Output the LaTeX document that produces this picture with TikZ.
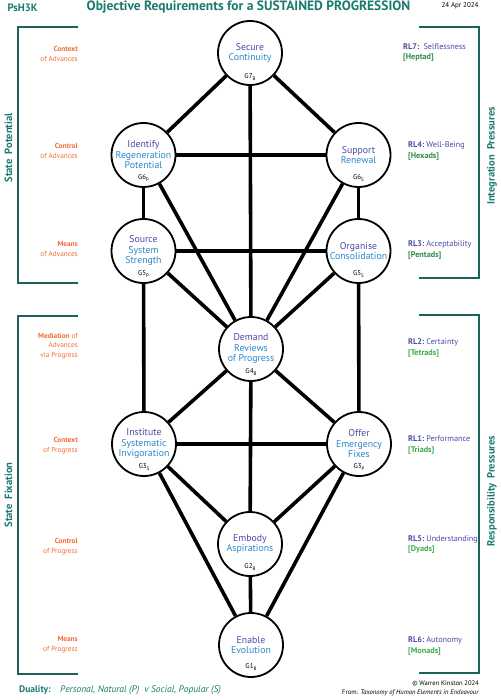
\documentclass[tikz,border=0pt]{standalone}
\usepackage{fontspec}
\setmainfont{PT Sans}
\definecolor{teal1}{HTML}{1B7A6E}
\definecolor{frameclr}{HTML}{1D635C}
\definecolor{orng}{HTML}{F26B36}
\definecolor{indg}{HTML}{4B49A8}
\definecolor{skyb}{HTML}{2C88CC}
\definecolor{grn}{HTML}{2F8C45}
\definecolor{grnl}{HTML}{3DAA4C}
\newcommand\gverb[1]{\textcolor{indg}{#1}}
\newcommand\gsub[1]{\raisebox{-1.2pt}{\fontsize{5}{5}\selectfont #1}}

\begin{document}
\begin{tikzpicture}[x=1pt,y=-1pt,
   gnode/.style={circle,draw,line width=1.8pt,fill=white,minimum size=64pt,
     inner sep=0pt,align=center,text=skyb,font=\fontsize{9.8}{10.5}\selectfont},
   gtag/.style={inner sep=0pt,font=\fontsize{7}{7}\selectfont},
   link/.style={line width=3.6pt},
   frame/.style={draw=frameclr,line width=1.8pt},
   side/.style={anchor=east,align=right,inner sep=0pt,text=orng,
     font=\fontsize{7.3}{9.5}\selectfont},
   rl/.style={anchor=west,align=left,inner sep=0pt,
     font=\fontsize{8.2}{10.5}\selectfont},
   state/.style={rotate=90,inner sep=0pt,text=teal1,
     font=\bfseries\fontsize{10.5}{10.5}\selectfont}]
\useasboundingbox (0,0) rectangle (500,700);

% header
\node[text=teal1,font=\bfseries\fontsize{10.7}{10.7}\selectfont] (code) at (22.5,8) {PsH3K};
\node[text=teal1,font=\bfseries\fontsize{13.5}{13.5}\selectfont] (title) at (248.5,7.5)
   {Objective Requirements for a SUSTAINED PROGRESSION};
\node[font=\fontsize{7}{7}\selectfont] (date) at (460,6) {24 Apr 2024};

% brackets
\draw[frame] (78,27) -- (18,27) -- (18,283) -- (78,283);
\draw[frame] (78,316) -- (18,316) -- (18,674) -- (78,674);
\draw[frame] (419,27) -- (479,27) -- (479,278) -- (419,278);
\draw[frame] (419,315) -- (479,315) -- (479,673) -- (419,673);
\node[state] (sp) at (8.5,148) {State\hspace{5pt}Potential};
\node[state] (sf) at (8.5,495) {State\hspace{5pt}Fixation};
\node[state] (ip) at (492,156) {Integration\hspace{5pt}Pressures};
\node[state] (rp) at (492,491) {Responsibility\hspace{5pt}Pressures};

% the groups
\node[gnode] (g7)  at (250,53)  {\gverb{Secure}\\Continuity};
\node[gnode] (g6p) at (143.5,155) {\gverb{Identify}\\Regeneration\\Potential};
\node[gnode] (g6s) at (358.5,155) {\gverb{Support}\\Renewal};
\node[gnode] (g5p) at (143.5,251) {\gverb{Source}\\System\\Strength};
\node[gnode] (g5s) at (358.5,251) {\gverb{Organise}\\Consolidation};
\node[gnode] (g4)  at (251,349) {\gverb{Demand}\\Reviews\\of Progress};
\node[gnode] (g3s) at (144,444) {\gverb{Institute}\\Systematic\\Invigoration};
\node[gnode] (g3p) at (359,444) {\gverb{Offer}\\Emergency\\Fixes};
\node[gnode] (g2)  at (250,544) {\gverb{Embody}\\Aspirations};
\node[gnode] (g1)  at (251,645) {\gverb{Enable}\\Evolution};

\node[gtag] (g7t)  at ([yshift=-24pt]g7.center)  {G7\gsub{B}};
\node[gtag] (g6pt) at ([yshift=-23pt]g6p.center) {G6\gsub{P}};
\node[gtag] (g6st) at ([yshift=-23pt]g6s.center) {G6\gsub{S}};
\node[gtag] (g5pt) at ([yshift=-23pt]g5p.center) {G5\gsub{P}};
\node[gtag] (g5st) at ([yshift=-23pt]g5s.center) {G5\gsub{S}};
\node[gtag] (g4t)  at ([yshift=-23pt]g4.center)  {G4\gsub{B}};
\node[gtag] (g3st) at ([yshift=-23pt]g3s.center) {G3\gsub{S}};
\node[gtag] (g3pt) at ([yshift=-23pt]g3p.center) {G3\gsub{P}};
\node[gtag] (g2t)  at ([yshift=-23pt]g2.center)  {G2\gsub{B}};
\node[gtag] (g1t)  at ([yshift=-22pt]g1.center)  {G1\gsub{B}};

\foreach \a/\b in {g7/g6p,g7/g6s,g7/g4,g6p/g6s,g6p/g5p,g6s/g5s,g6p/g4,g6s/g4,
   g5p/g5s,g5p/g4,g5s/g4,g5p/g3s,g5s/g3p,g4/g3s,g4/g3p,g3s/g3p,g4/g2,
   g3s/g2,g3s/g1,g3p/g2,g3p/g1,g2/g1}
   \draw[link] (\a) -- (\b);

% left labels
\node[side] (cadv) at (78,54)    {\textbf{Context}\\of Advances};
\node[side] (tadv) at (78,151)   {\textbf{Control}\\of Advances};
\node[side] (madv) at (78,249)   {\textbf{Means}\\of Advances};
\node[side] (medv) at (78,346)   {\textbf{Mediation} of\\Advances\\via Progress};
\node[side] (cprg) at (78,445.5) {\textbf{Context}\\of Progress};
\node[side] (tprg) at (78,546.5) {\textbf{Control}\\of Progress};
\node[side] (mprg) at (78,644.5) {\textbf{Means}\\of Progress};

% right labels
\node[rl] (rl7) at (403,52.5) {\textcolor{indg}{\textbf{RL7:}~~Selflessness}\\\textcolor{grn}{\textbf{[Heptad]}}};
\node[rl] (rl4) at (408,151)  {\textcolor{indg}{\textbf{RL4:}~Well-Being}\\\textcolor{grn}{\textbf{[Hexads]}}};
\node[rl] (rl3) at (408,250)  {\textcolor{indg}{\textbf{RL3:}~Acceptability}\\\textcolor{grn}{\textbf{[Pentads]}}};
\node[rl] (rl2) at (408,348)  {\textcolor{indg}{\textbf{RL2:}~Certainty}\\\textcolor{grnl}{\textbf{[Tetrads]}}};
\node[rl] (rl1) at (408,445)  {\textcolor{indg}{\textbf{RL1:}~Performance}\\\textcolor{grnl}{\textbf{[Triads]}}};
\node[rl] (rl5) at (408,544.5) {\textcolor{indg}{\textbf{RL5:}~Understanding}\\\textcolor{grnl}{\textbf{[Dyads]}}};
\node[rl] (rl6) at (408,646)  {\textcolor{indg}{\textbf{RL6:}~Autonomy}\\\textcolor{grnl}{\textbf{[Monads]}}};

% footer
\node[anchor=west,inner sep=0pt,text=teal1,font=\fontsize{9.5}{9.5}\selectfont] (dual) at (19,690)
   {\textbf{Duality:}\quad\textit{Personal, Natural (P)~ v Social, Popular (S)}};
\node[anchor=east,align=right,inner sep=0pt,font=\fontsize{6.6}{9}\selectfont] (cred) at (479,688.5)
   {© Warren Kinston 2024\\From: \textit{Taxonomy of Human Elements in Endeavour}};
\end{tikzpicture}
\end{document}
